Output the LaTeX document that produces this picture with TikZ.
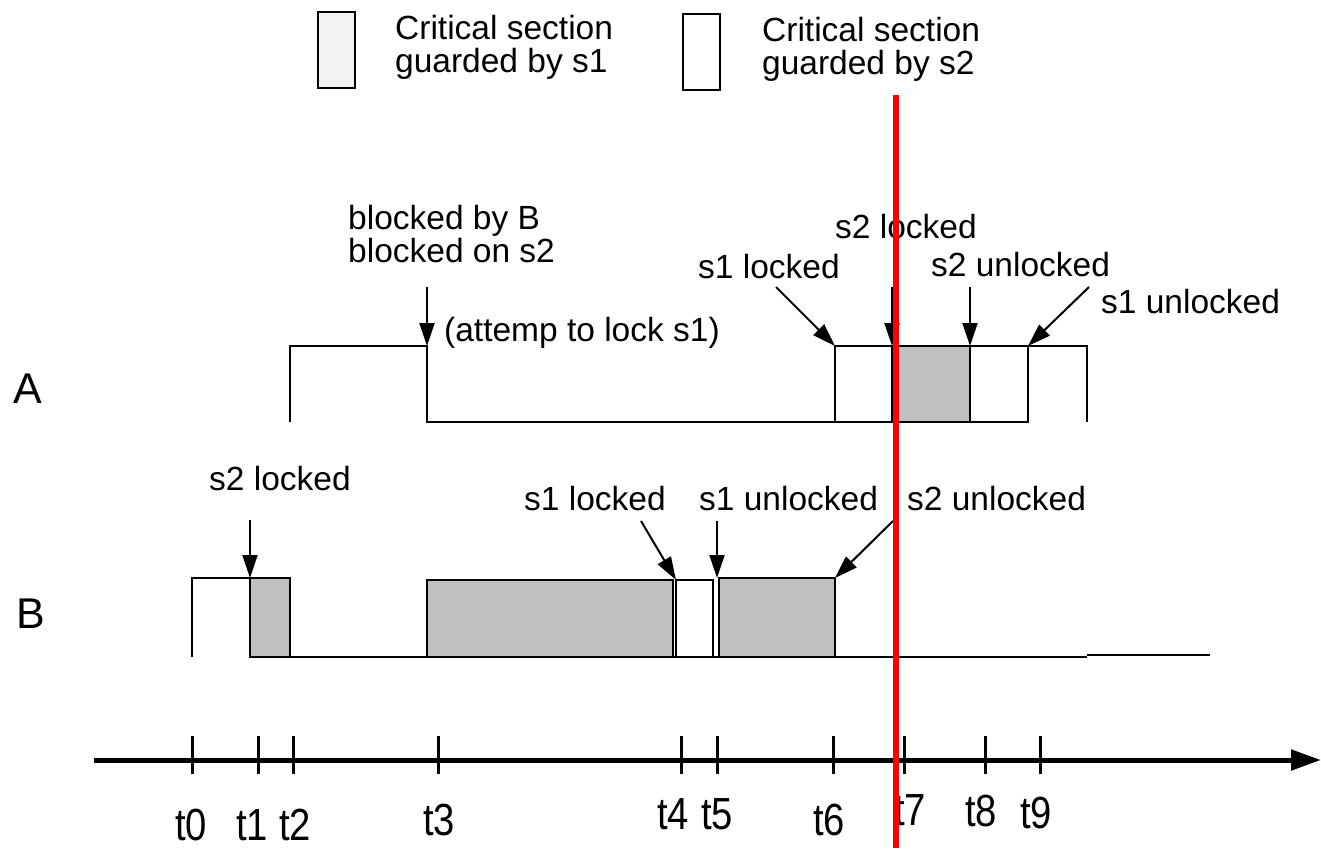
\documentclass[tikz,border=0pt]{standalone}
\usepackage{fontspec}
\setmainfont{Liberation Sans}
\usetikzlibrary{arrows.meta}
\definecolor{boxgray}{HTML}{C0C0C0}
\definecolor{legendgray}{HTML}{F2F2F2}
\begin{document}
\begin{tikzpicture}[x=1pt,y=-1pt,
  txt/.style={inner sep=0pt, anchor=base west, font=\fontsize{33.5}{33}\selectfont, align=left},
  tlab/.style={inner sep=0pt, anchor=base, font=\fontsize{45}{45}\selectfont, xscale=0.85},
  big/.style={inner sep=0pt, anchor=base west, font=\fontsize{43}{43}\selectfont},
  wave/.style={line width=2pt, line join=miter},
  s1box/.style={draw, line width=2pt, fill=boxgray},
  s2box/.style={draw, line width=2pt, fill=white},
  legbox/.style={draw, line width=2pt, minimum width=37pt, minimum height=76pt, inner sep=0pt},
  ptr/.style={line width=2pt, -{Triangle[length=23pt,width=15pt]}},
  tickmark/.style={line width=3pt},
]
\useasboundingbox (0,0) rectangle (1321,848);

% legend
\node[legbox, fill=legendgray] (leg1) at (336.5,50) {};
\node[txt] (leg1t) at (395,73) {Critical section\\guarded by s1};
\node[legbox, fill=white] (leg2) at (701.5,52) {};
\node[txt] (leg2t) at (762,75) {Critical section\\guarded by s2};

% process labels
\node[big] (labA) at (13,403) {A};
\node[big] (labB) at (16,628) {B};

% waveform A
\draw[wave] (290,422) -- (290,346) -- (427,346) -- (427,422) -- (835,422);
\draw[s2box] (835,346) rectangle (892,422);
\draw[s1box] (892,346) rectangle (970,422);
\draw[s2box] (970,346) rectangle (1028,422);
\draw[wave] (1028,346) -- (1087,346) -- (1087,422);

% waveform B
\draw[wave] (192,657) -- (192,578) -- (250,578);
\draw[wave] (290,657) -- (1087,657);
\draw[wave] (1087,655) -- (1210,655);
\draw[s1box] (250,578) rectangle (290,657);
\draw[s1box] (427,580) rectangle (673,657);
\draw[s2box] (676,580) rectangle (713,657);
\draw[s1box] (719,578) rectangle (835,657);

% texts A
\node[txt] (tblk) at (348,262) {blocked by B\\blocked on s2};
\node[txt] (tatt) at (444,341) {(attemp to lock s1)};
\node[txt] (tAs1l) at (698,278) {s1 locked};
\node[txt] (tAs2l) at (835,238) {s2 locked};
\node[txt] (tAs2u) at (931,276) {s2 unlocked};
\node[txt] (tAs1u) at (1101,313) {s1 unlocked};

% texts B
\node[txt] (tBs2l) at (209,490) {s2 locked};
\node[txt] (tBs1l) at (524,510) {s1 locked};
\node[txt] (tBs1u) at (699,510) {s1 unlocked};
\node[txt] (tBs2u) at (907,510) {s2 unlocked};

% arrows A
\coordinate (a1s) at (427,287); \coordinate (a1e) at (427,346);
\coordinate (a2s) at (776,287); \coordinate (a2e) at (835,346);
\coordinate (a3s) at (892,287); \coordinate (a3e) at (892,346);
\coordinate (a4s) at (970,287); \coordinate (a4e) at (970,346);
\coordinate (a5s) at (1089,287); \coordinate (a5e) at (1028,346);
\draw[ptr] (a1s) -- (a1e);
\draw[ptr] (a2s) -- (a2e);
\draw[ptr] (a3s) -- (a3e);
\draw[ptr] (a4s) -- (a4e);
\draw[ptr] (a5s) -- (a5e);

% arrows B
\coordinate (b1s) at (250,520); \coordinate (b1e) at (250,578);
\coordinate (b2s) at (641,521); \coordinate (b2e) at (676,580);
\coordinate (b3s) at (717,521); \coordinate (b3e) at (717,578);
\coordinate (b4s) at (893,521); \coordinate (b4e) at (835,578);
\draw[ptr] (b1s) -- (b1e);
\draw[ptr] (b2s) -- (b2e);
\draw[ptr] (b3s) -- (b3e);
\draw[ptr] (b4s) -- (b4e);

% time axis
\coordinate (axs) at (94,760);
\coordinate (axe) at (1321,760);
\draw[line width=5pt, -{Triangle[length=30pt,width=20pt]}] (axs) -- (axe);
\foreach \x in {192,258,293,438,681,717,833,904,985,1040}
  \draw[tickmark] (\x,736) -- (\x,774);

\node[tlab] (t0) at (191,840) {t0};
\node[tlab] (t1) at (252,840) {t1};
\node[tlab] (t2) at (295,840) {t2};
\node[tlab] (t3) at (439,835) {t3};
\node[tlab] (t4) at (673,829) {t4};
\node[tlab] (t5) at (717,829) {t5};
\node[tlab] (t6) at (829,835) {t6};
\node[tlab] (t7) at (910,825) {t7};
\node[tlab] (t8) at (981,826) {t8};
\node[tlab] (t9) at (1036,828) {t9};

% red marker
\coordinate (rtop) at (896,95);
\coordinate (rbot) at (896,848);
\draw[red, line width=6pt] (rtop) -- (rbot);
\end{tikzpicture}
\end{document}
